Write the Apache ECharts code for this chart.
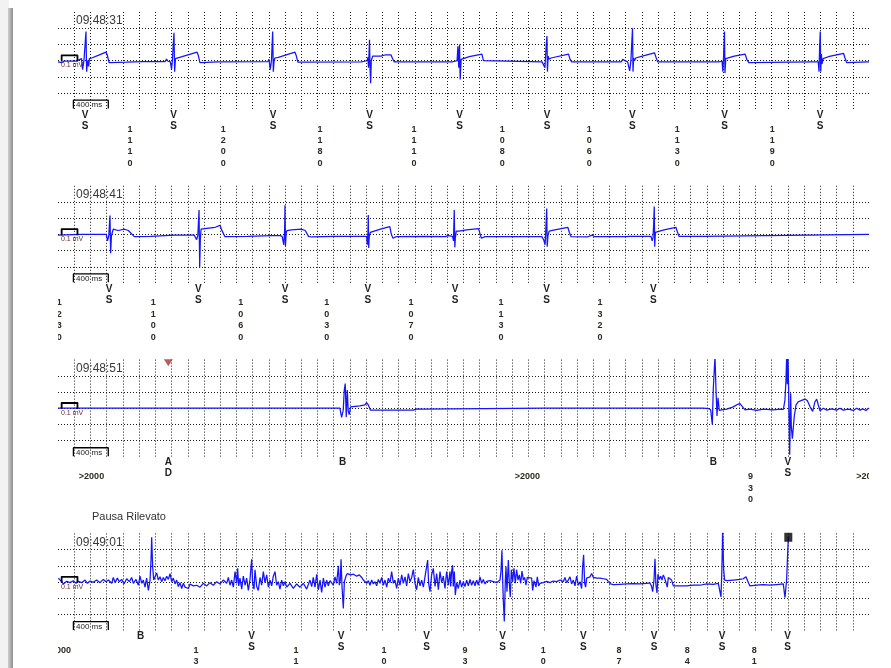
<!DOCTYPE html>
<html><head><meta charset="utf-8">
<script src="https://cdn.jsdelivr.net/npm/echarts@6/dist/echarts.min.js"></script>
<style>html,body{margin:0;padding:0;background:#fff;}#c{width:891px;height:668px;}</style>
</head><body><div id="c"></div>
<script>
// ---------- data (time in ms from strip start, amplitude in mV) ----------
const stripClock = ['09:48:31', '09:48:41', '09:48:51', '09:49:01'];
const stripNote = ['', '', '', 'Pausa Rilevato'];

// strip 1
const s1R = [345, 1430, 2647, 3841, 4951, 6029, 7084, 8218, 9399];
const s1Shape = [
 [[-120,-0.01],[-55,0.03],[-42,-0.14],[-25,0],[0,0.45],[8,-0.17],[20,0],[33,-0.09],[42,0.03],[70,0.04],[150,0.08],[247,0.13],[262,0.09],[285,-0.03],[500,-0.025],[700,-0.015]],
 [[-110,-0.015],[-92,0.025],[-75,-0.01],[-45,-0.02],[-30,-0.13],[-20,0],[0,0.43],[8,-0.17],[18,0.03],[30,0.03],[100,0.06],[285,0.13],[300,0.08],[320,-0.03],[550,-0.02]],
 [[-60,-0.015],[-45,0.02],[-30,-0.14],[-15,0],[0,0.45],[8,-0.17],[18,0],[28,0.04],[70,0.05],[275,0.13],[290,0.08],[310,-0.025]],
 [[-100,-0.02],[-80,0.01],[-60,-0.01],[-30,0],[-20,0.05],[-12,-0.11],[0,0.32],[6,-0.09],[14,-0.35],[22,0],[40,0.07],[140,0.07],[200,0.09],[264,0.09],[285,0.03],[305,-0.02]],
 [[-90,-0.02],[-70,0.01],[-55,-0.01],[-30,0],[-20,0.22],[-10,-0.11],[0,0.25],[8,-0.29],[20,0.02],[40,0.04],[120,0.06],[276,0.10],[295,0],[310,-0.02]],
 [[-60,-0.02],[-40,-0.01],[-25,-0.11],[-10,0.22],[0,0.38],[6,-0.17],[15,0.07],[25,0.02],[50,0.04],[266,0.10],[285,0.02],[305,-0.02]],
 [[-140,-0.02],[-120,0.02],[-95,0],[-60,-0.02],[-35,-0.16],[-20,0],[0,0.50],[6,-0.17],[14,0.04],[25,0],[40,0.04],[120,0.07],[271,0.12],[290,0.05],[310,-0.02]],
 [[-110,-0.02],[-90,0.01],[-70,-0.02],[-30,-0.01],[-20,-0.17],[-10,0.1],[0,0.45],[6,-0.19],[16,0.03],[30,0.04],[120,0.07],[255,0.10],[275,0.02],[300,-0.03]],
 [[-100,-0.02],[-25,-0.02],[-15,-0.17],[-8,0.2],[0,0.45],[6,-0.17],[14,0.1],[22,-0.05],[35,0.03],[100,0.06],[288,0.11],[305,0.04],[325,-0.03],[590,-0.02]]
];
const s1Ends = [[0,-0.02],[20,0.01],[45,-0.03],[70,-0.01],[10000,-0.02]];
const s1Codes = [[333,'VS'],[1426,'VS'],[2651,'VS'],[3843,'VS'],[4953,'VS'],[6030,'VS'],[7083,'VS'],[8218,'VS'],[9396,'VS']];
const s1Gaps = [[888,'1110'],[2038,'1200'],[3230,'1180'],[4390,'1110'],[5479,'1080'],[6551,'1060'],[7636,'1130'],[8807,'1190'],[10030,'1230']];

// strip 2
const s2R = [641, 1739, 2799, 3826, 4886, 6026, 7352];
const s2Shape = [
 [[-120,0],[-45,0],[-30,-0.1],[-15,-0.02],[0,0.29],[8,-0.29],[18,-0.02],[40,0.08],[100,0.06],[180,0.08],[226,0.06],[300,-0.035],[500,-0.03],[800,-0.01]],
 [[-60,-0.01],[-30,-0.08],[-15,-0.02],[0,0.375],[8,-0.51],[16,-0.08],[25,0.08],[70,0.09],[200,0.11],[259,0.14],[279,0.07],[320,-0.035],[600,-0.03],[900,-0.02]],
 [[-60,-0.02],[-35,-0.03],[-15,-0.16],[-5,0.05],[0,0.45],[6,-0.18],[14,0.02],[25,0.06],[80,0.07],[200,0.08],[250,0.06],[290,-0.03],[330,-0.04],[600,-0.03]],
 [[-80,-0.03],[-20,-0.03],[-12,-0.16],[-5,0],[0,0.30],[5,-0.21],[12,-0.03],[25,0.03],[40,0.05],[150,0.08],[265,0.12],[285,0],[305,-0.06],[340,-0.035],[700,-0.03]],
 [[-110,-0.035],[-95,-0.05],[-80,-0.02],[-65,-0.035],[-20,-0.03],[-10,-0.1],[0,0.375],[7,-0.2],[14,-0.05],[25,0.05],[60,0.05],[150,0.07],[300,0.09],[320,0],[335,-0.06],[380,-0.035]],
 [[-60,-0.035],[-35,-0.09],[-20,-0.16],[-10,0.1],[0,0.40],[6,-0.19],[15,-0.02],[30,0.05],[100,0.07],[260,0.11],[280,0.03],[300,-0.035],[500,-0.04],[560,-0.01],[590,-0.035]],
 [[-400,-0.035],[-380,-0.02],[-370,-0.035],[-300,-0.03],[-290,-0.015],[-280,-0.03],[-40,-0.03],[-25,-0.1],[-15,-0.05],[-6,0.2],[0,0.43],[6,-0.19],[14,0.03],[30,0.05],[120,0.07],[267,0.11],[285,0.04],[305,-0.03],[600,-0.03],[880,-0.025],[900,0]]
];
const s2Ends = [[0,-0.01],[300,0],[10000,0]];
const s2Codes = [[629,'VS'],[1730,'VS'],[2799,'VS'],[3819,'VS'],[4896,'VS'],[6026,'VS'],[7341,'VS']];
const s2Gaps = [[16,'1230'],[1175,'1100'],[2253,'1060'],[3313,'1030'],[4353,'1070'],[5462,'1130'],[6683,'1320']];

// strip 3
const s3R = [3542, 8101, 8997];
const s3Shape = [
 [[-66,0],[-45,-0.14],[-25,-0.03],[-12,0.28],[0,0.38],[12,-0.14],[25,0.28],[37,-0.05],[49,-0.10],[66,0.02],[90,0.04],[181,0.035],[242,0.05],[263,0.085],[284,0.05],[312,-0.03],[838,-0.03],[880,-0.01],[900,-0.03],[945,-0.015],[962,0]],
 [[-144,0],[-123,-0.015],[-82,-0.005],[-53,-0.025],[-33,-0.25],[-21,0.3],[0,0.8],[12,0.3],[25,-0.12],[37,0.16],[53,-0.035],[82,-0.025],[144,-0.015],[226,0.02],[280,0.06],[308,0.07],[329,0.04],[370,-0.025],[432,-0.015],[514,-0.035],[596,-0.015],[719,-0.025],[801,-0.015]],
 [[-53,-0.02],[-33,0.13],[-21,0.43],[-12,0.8],[-4,0.37],[4,0.8],[12,0.28],[25,-0.72],[37,0.23],[45,-0.28],[58,-0.47],[74,-0.47],[82,-0.12],[103,0.05],[132,0.10],[173,0.12],[214,0.14],[242,0.12],[275,0.025],[308,-0.05],[337,0.10],[358,0.14],[378,0.05],[399,-0.04],[440,0],[481,-0.03],[543,-0.01],[604,-0.03],[645,0],[686,-0.03],[748,-0.015],[810,-0.035],[850,0],[892,-0.03],[925,-0.01],[966,-0.035],[995,0]]
];
const s3Ends = [[0,0],[1833,0],[1840,-0.015],[1850,0],[1960,0],[1966,-0.02],[1975,0],[6000,0],[6005,0.015],[6012,0],[6205,0],[6211,0.01],[6218,0],[6740,0],[6745,-0.01],[6752,0],[10000,-0.01]];
const s3Codes = [[1360,'AD'],[3510,'B'],[8080,'B'],[8998,'VS']];
const s3Gaps = [[413,'>2000'],[5789,'>2000'],[8538,'930'],[10000,'>2000']];
const s3Event = [[1360, 0.70]];

// strip 4 (noisy recording, read point by point)
const s4Trace = [
 [4,0.06],[25,0.07],[45,0.005],[66,-0.03],[86,-0.01],[107,0.01],[148,-0.01],[189,0.02],[222,-0.02],[251,0.01],[292,-0.01],[333,0.03],[362,-0.02],[395,0.015],[436,-0.005],[477,0.03],[518,-0.01],[559,0.04],[592,0.005],[621,0.03],[662,-0.02],[682,0.07],[703,-0.01],[732,0.06],[756,0.005],[785,0.04],[814,-0.03],[847,0.05],[880,0.005],[908,0.07],[929,-0.02],[962,0.04],[991,-0.05],[1011,0.09],[1032,-0.02],[1052,0.03],[1073,-0.08],[1093,0.06],[1114,-0.13],[1135,0.03],[1147,0.34],[1155,0.69],[1167,0.24],[1180,0.03],[1196,0.08],[1217,0.14],[1237,0.03],[1258,0.08],[1278,0.005],[1299,0.07],[1319,0.02],[1340,0.09],[1361,0.04],[1381,0.13],[1402,0.005],[1422,0.06],[1443,-0.03],[1463,0.03],[1484,-0.07],[1504,-0.01],[1525,-0.10],[1546,-0.02],[1566,-0.08],[1587,-0.05],[1607,-0.10],[1628,-0.03],[1669,-0.06],[1710,-0.05],[1751,-0.08],[1792,-0.02],[1833,-0.06],[1874,-0.01],[1915,-0.05],[1957,0.005],[1998,-0.03],[2039,0.03],[2080,-0.02],[2100,0.07],[2121,-0.05],[2141,0.03],[2162,-0.08],[2183,0.16],[2203,-0.02],[2215,0.21],[2228,-0.06],[2244,0.06],[2265,-0.11],[2285,0.09],[2306,-0.05],[2326,0.06],[2347,-0.13],[2368,0.04],[2380,0.24],[2388,0.35],[2400,-0.02],[2417,-0.11],[2429,0.19],[2450,-0.07],[2470,-0.13],[2491,0.07],[2511,-0.05],[2532,0.16],[2552,-0.01],[2573,0.11],[2594,-0.08],[2614,0.03],[2635,-0.06],[2655,0.09],[2676,0.16],[2696,-0.05],[2717,0.005],[2737,-0.11],[2758,0.03],[2779,-0.06],[2799,0.005],[2820,-0.08],[2861,-0.02],[2902,-0.10],[2943,-0.03],[2984,-0.08],[3025,-0.02],[3066,-0.11],[3107,0.03],[3128,-0.07],[3148,0.07],[3169,-0.08],[3190,0.12],[3210,-0.12],[3231,0.03],[3251,-0.16],[3272,0.06],[3292,-0.08],[3313,0.03],[3333,-0.06],[3354,0.02],[3395,-0.05],[3416,0.08],[3436,-0.02],[3457,0.25],[3469,-0.05],[3481,0.03],[3490,0.35],[3502,-0.07],[3518,-0.41],[3531,0.005],[3551,0.09],[3568,0.13],[3584,0.16],[3609,0.11],[3642,0.12],[3683,0.09],[3716,0.11],[3744,0.07],[3765,0.03],[3785,0.04],[3806,-0.02],[3827,0.02],[3847,-0.05],[3868,0.03],[3888,-0.03],[3909,0.005],[3929,-0.06],[3950,0.04],[3970,-0.02],[3991,0.07],[4012,-0.05],[4032,0.03],[4053,-0.08],[4073,0.06],[4094,-0.01],[4114,0.16],[4135,-0.02],[4155,0.03],[4176,-0.10],[4196,0.06],[4217,-0.05],[4238,0.11],[4258,-0.02],[4279,0.08],[4299,-0.06],[4320,0.13],[4340,0.005],[4361,0.07],[4381,0.19],[4402,-0.02],[4422,-0.12],[4443,0.07],[4464,-0.06],[4484,0.03],[4505,-0.08],[4525,0.08],[4546,0.24],[4558,0.34],[4570,-0.02],[4587,-0.15],[4607,0.11],[4628,0.21],[4649,-0.07],[4669,0.13],[4690,-0.12],[4710,0.16],[4731,-0.01],[4751,0.09],[4772,-0.10],[4792,0.16],[4813,-0.05],[4833,0.16],
 [4842,-0.07],[4854,0.17],[4866,0.26],[4874,-0.07],[4887,0.16],[4899,-0.20],[4916,-0.01],[4936,-0.10],[4957,0.03],[4977,-0.08],[4998,0.005],[5018,-0.07],[5039,0.03],[5059,-0.06],[5080,0.04],[5100,-0.05],[5121,0.02],[5142,-0.06],[5162,0.03],[5183,-0.05],[5203,0.08],[5224,-0.02],[5244,0.04],[5265,-0.03],[5285,0.01],[5306,-0.02],[5327,0.02],[5347,-0.01],[5368,0.005],[5409,-0.01],[5429,0.01],[5450,0.03],[5462,0.16],[5474,0.49],[5483,0.03],[5491,-0.28],[5503,-0.61],[5516,0.03],[5524,0.24],[5536,-0.15],[5553,0.34],[5565,-0.02],[5577,-0.23],[5590,0.19],[5606,0.005],[5622,0.21],[5639,-0.02],[5655,0.19],[5672,0.03],[5688,0.11],[5705,-0.02],[5721,0.17],[5738,0.03],[5754,0.07],[5770,-0.05],[5787,0.07],[5811,0.06],[5840,0.06],[5853,-0.13],[5869,0.02],[5894,-0.08],[5910,0.08],[5927,-0.06],[5943,-0.02],[5984,-0.01],[6025,0.01],[6066,-0.01],[6107,0.015],[6149,0.005],[6190,0.03],[6231,0.005],[6251,0.07],[6272,-0.01],[6292,0.03],[6313,0.08],[6333,-0.03],[6354,0.03],[6375,-0.06],[6395,0.09],[6416,-0.05],[6436,0.005],[6457,-0.10],[6469,0.24],[6481,0.42],[6494,-0.02],[6506,-0.08],[6518,0.06],[6539,0.09],[6560,0.08],[6580,0.13],[6601,0.07],[6642,0.06],[6683,0.06],[6724,0.05],[6765,0.04],[6786,0.005],[6814,-0.03],[6847,-0.04],[6929,-0.035],[7012,-0.03],[7094,-0.025],[7176,-0.03],[7258,-0.02],[7299,-0.015],[7320,-0.07],[7332,-0.15],[7349,0.03],[7361,0.36],[7373,-0.05],[7386,-0.17],[7398,0.12],[7414,0.04],[7431,0.09],[7447,0.03],[7464,0.11],[7480,0.06],[7497,0.08],[7513,-0.08],[7525,0.07],[7546,0.06],[7566,0.03],[7587,-0.06],[7608,-0.08],[7669,-0.06],[7751,-0.06],[7834,-0.05],[7916,-0.05],[7998,-0.03],[8080,-0.035],[8142,-0.02],[8162,-0.03],[8175,-0.23],[8187,0.24],[8195,0.8],[8208,0.19],[8220,0.03],[8245,0.02],[8327,0.03],[8409,0.04],[8450,0.05],[8483,0.08],[8499,0.07],[8516,-0.02],[8532,-0.06],[8615,-0.05],[8697,-0.04],[8779,-0.05],[8861,-0.04],[8943,-0.03],[8964,-0.24],[8984,0.03],[8997,0.05],[9005,0.69]
];
const s4Codes = [[1020,'B'],[2388,'VS'],[3490,'VS'],[4546,'VS'],[5483,'VS'],[6477,'VS'],[7349,'VS'],[8187,'VS'],[8997,'VS']];
const s4Gaps = [[5,'>2000'],[1702,'1370'],[2935,'1100'],[4020,'1060'],[5018,'930'],[5984,'1000'],[6917,'870'],[7759,'840'],[8585,'810']];
const s4Event = [[9005, 0.69]];

// calibration marks (0.1 mV pulse, 400 ms bar)
const calPulse = [[45,0],[45,0.08],[240,0.08],[240,0]];
const scaleBar = [[190,-0.74],[190,-0.61],[620,-0.61],[620,-0.74]];

// ---------- layout / style ----------
const LEFT = 58, WIDTH = 811, BASE0 = 60.6, STEP = 173.8, HALF = 48.6;
const FONT = '"Liberation Sans", Arial, sans-serif';
const CODE_Y = [5.8, 16.8];
const DIG_Y0 = 19.9, DIG_STEP = 11.4;

function buildTrace(R, shapes, ends) {
  const pts = ends.slice();
  R.forEach((r, i) => shapes[i].forEach(p => pts.push([r + p[0], p[1]])));
  pts.sort((a, b) => a[0] - b[0]);
  return pts;
}
const traces = [
  buildTrace(s1R, s1Shape, s1Ends),
  buildTrace(s2R, s2Shape, s2Ends),
  buildTrace(s3R, s3Shape, s3Ends),
  s4Trace
];
const codes = [s1Codes, s2Codes, s3Codes, s4Codes];
const gaps = [s1Gaps, s2Gaps, s3Gaps, s4Gaps];

const grids = [], xAxes = [], yAxes = [], series = [], graphics = [];
const dotted = {show: true, showMinLine: false, showMaxLine: false, lineStyle: {color: '#1a1a1a', width: 1, type: [1, 2]}};

// page shadow on the left
graphics.push({type: 'rect', shape: {x: 0, y: 0, width: 9, height: 668}, style: {fill: '#f2f2f2'}, z: -10});
graphics.push({type: 'rect', shape: {x: 8, y: 8, width: 5, height: 660},
  style: {fill: new echarts.graphic.LinearGradient(0, 0, 1, 0, [{offset: 0, color: '#cfcfcf'}, {offset: 1, color: '#8f8f8f'}])}, z: -10});

for (let k = 0; k < 4; k++) {
  const base = BASE0 + STEP * k;
  grids.push({left: LEFT, width: WIDTH, top: base - HALF, height: 2 * HALF, containLabel: false, outerBoundsMode: 'none'});
  grids.push({left: LEFT, width: WIDTH, top: base + HALF, height: 75, containLabel: false, outerBoundsMode: 'none'});
  xAxes.push({gridIndex: 2 * k, type: 'value', min: 0, max: 10000, interval: 200,
    axisLine: {show: false}, axisTick: {show: false}, axisLabel: {show: false}, splitLine: dotted});
  yAxes.push({gridIndex: 2 * k, type: 'value', min: -0.75, max: 0.75, interval: 0.25,
    axisLine: {show: false}, axisTick: {show: false}, axisLabel: {show: false}, splitLine: dotted});
  xAxes.push({gridIndex: 2 * k + 1, type: 'value', min: 0, max: 10000, show: false});
  yAxes.push({gridIndex: 2 * k + 1, type: 'value', min: 0, max: 1, show: false});

  series.push({type: 'line', xAxisIndex: 2 * k, yAxisIndex: 2 * k, data: traces[k], symbol: 'none',
    clip: true, silent: true, z: 3, lineStyle: {color: '#1414ff', width: 1.25}});
  series.push({type: 'line', xAxisIndex: 2 * k, yAxisIndex: 2 * k, data: calPulse, symbol: 'none',
    silent: true, z: 4, lineStyle: {color: '#000', width: 1.8, join: 'round', cap: 'round'}});
  series.push({type: 'line', xAxisIndex: 2 * k, yAxisIndex: 2 * k, data: scaleBar, symbol: 'none',
    silent: true, z: 4, lineStyle: {color: '#000', width: 1.3}});

  const items = [];
  codes[k].forEach(c => items.push({t: c[0], kind: 'code', text: c[1]}));
  gaps[k].forEach(g => items.push({t: g[0], kind: 'gap', text: g[1]}));
  series.push({type: 'custom', xAxisIndex: 2 * k + 1, yAxisIndex: 2 * k + 1, clip: true, silent: true,
    data: items.map((it, i) => [it.t, i]),
    renderItem: function (params, api) {
      const it = items[params.dataIndex];
      const x = api.coord([it.t, 0])[0];
      const top = params.coordSys.y;
      const children = [];
      const mk = (txt, y, font, fill) => ({type: 'text', style: {text: txt, x: x, y: y, font: font, fill: fill,
        align: 'center', verticalAlign: 'middle', textAlign: 'center', textVerticalAlign: 'middle'}});
      if (it.kind === 'code') {
        it.text.split('').forEach((ch, i) => children.push(mk(ch, top + CODE_Y[i], 'bold 10px ' + FONT, '#1f1f1f')));
      } else if (it.text.charAt(0) === '>') {
        children.push(mk(it.text, top + DIG_Y0, 'bold 9px ' + FONT, '#2e2a22'));
      } else {
        it.text.split('').forEach((ch, i) => children.push(mk(ch, top + DIG_Y0 + DIG_STEP * i, 'bold 9px ' + FONT, '#2e2a22')));
      }
      return {type: 'group', children: children};
    }
  });

  // texts of the strip
  graphics.push({type: 'text', style: {text: stripClock[k], x: 76, y: base - 39.5, font: '12px ' + FONT, fill: '#3a3a3a',
    align: 'left', verticalAlign: 'middle', textAlign: 'left', textVerticalAlign: 'middle'}, z: 1});
  graphics.push({type: 'text', style: {text: '0.1 mV', x: 61, y: base + 4.8, font: '7px ' + FONT, fill: '#6e2b2b',
    align: 'left', verticalAlign: 'middle', textAlign: 'left', textVerticalAlign: 'middle'}, z: 0});
  graphics.push({type: 'text', style: {text: '400 ms', x: 76, y: base + 44.6, font: '8px ' + FONT, fill: '#222',
    align: 'left', verticalAlign: 'middle', textAlign: 'left', textVerticalAlign: 'middle'}, z: 1});
  if (stripNote[k]) {
    graphics.push({type: 'text', style: {text: stripNote[k], x: 92, y: base - 65, font: '11px ' + FONT, fill: '#333',
      align: 'left', verticalAlign: 'middle', textAlign: 'left', textVerticalAlign: 'middle'}, z: 1});
  }
}

series.push({type: 'scatter', xAxisIndex: 4, yAxisIndex: 4, data: s3Event, symbol: 'triangle', symbolRotate: 180,
  symbolSize: [9, 7], itemStyle: {color: '#a83636'}, silent: true, z: 5});
series.push({type: 'scatter', xAxisIndex: 6, yAxisIndex: 6, data: s4Event, symbol: 'rect',
  symbolSize: [8, 9], itemStyle: {color: '#000'}, silent: true, z: 5});

const chart = echarts.init(document.getElementById('c'), null, {renderer: 'canvas'});
chart.setOption({
  animation: false,
  backgroundColor: '#ffffff',
  grid: grids, xAxis: xAxes, yAxis: yAxes, series: series, graphic: graphics
});
</script>
</body></html>
